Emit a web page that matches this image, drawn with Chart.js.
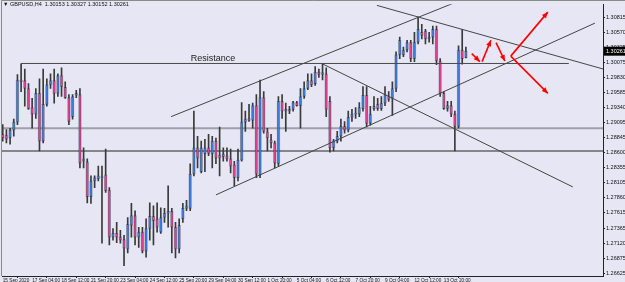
<!DOCTYPE html>
<html>
<head>
<meta charset="utf-8">
<script src="https://cdn.jsdelivr.net/npm/chart.js@4.4.0/dist/chart.umd.min.js"></script>
<style>
  html, body { margin: 0; padding: 0; background: #e6e6f5; }
  #wrap { width: 625px; height: 282px; position: relative; }
</style>
</head>
<body>
<div id="wrap"><canvas id="chart"></canvas></div>
<script>
// Chart values
var symbol = 'GBPUSD,H4';

var xLabels = ['15 Sep 2020', '17 Sep 04:00', '18 Sep 12:00', '21 Sep 20:00', '23 Sep 04:00',
    '24 Sep 12:00', '25 Sep 20:00', '29 Sep 04:00', '30 Sep 12:00', '1 Oct 20:00', '5 Oct 04:00',
    '6 Oct 12:00', '7 Oct 20:00', '9 Oct 04:00', '12 Oct 12:00', '13 Oct 20:00'];
var barsPerLabel = 8;

var priceTicks = [1.30815, 1.30570, 1.30325, 1.30075, 1.29830, 1.29585, 1.29340, 1.29095, 1.28845,
    1.28600, 1.28355, 1.28105, 1.27860, 1.27615, 1.27365, 1.27120, 1.26875, 1.26625];

var opens = [
    1.2890, 1.2889, 1.2884, 1.2897, 1.2910, 1.2979, 1.2978, 1.2965, 1.2934, 1.2923,
    1.2957, 1.2879, 1.2939, 1.2971, 1.2978, 1.2957, 1.2986, 1.2967, 1.2950, 1.2919,
    1.2954, 1.2955, 1.2846, 1.2845, 1.2788, 1.2814, 1.2817, 1.2819, 1.2824, 1.2799,
    1.2722, 1.2728, 1.2722, 1.2718, 1.2702, 1.2741, 1.2757, 1.2722, 1.2730, 1.2699,
    1.2736, 1.2756, 1.2752, 1.2730, 1.2754, 1.2761, 1.2764, 1.2738, 1.2702, 1.2752,
    1.2769, 1.2769, 1.2825, 1.2868, 1.2829, 1.2858, 1.2868, 1.2858, 1.2879, 1.2856,
    1.2853, 1.2855, 1.2850, 1.2840, 1.2819, 1.2848, 1.2910, 1.2913, 1.2913, 1.2937,
    1.2824, 1.2950, 1.2894, 1.2881, 1.2876, 1.2842, 1.2944, 1.2928, 1.2931, 1.2931,
    1.2942, 1.2937, 1.2952, 1.2965, 1.2978, 1.2973, 1.2992, 1.2988, 1.2989, 1.2944,
    1.2868, 1.2879, 1.2887, 1.2903, 1.2897, 1.2918, 1.2923, 1.2923, 1.2932, 1.2954,
    1.2908, 1.2932, 1.2939, 1.2932, 1.2941, 1.2952, 1.2949, 1.2965, 1.3020, 1.3020,
    1.3028, 1.3040, 1.3014, 1.3041, 1.3057, 1.3059, 1.3049, 1.3049, 1.3062, 1.3010,
    1.2957, 1.2932, 1.2937, 1.2923, 1.2903, 1.3028, 1.30153];

var highs = [
    1.2906, 1.2898, 1.2900, 1.2915, 1.2988, 1.3005, 1.2997, 1.2973, 1.2949, 1.2965,
    1.2981, 1.2997, 1.2981, 1.2989, 1.2997, 1.2989, 1.2999, 1.2976, 1.2955, 1.2955,
    1.2962, 1.2965, 1.2868, 1.2850, 1.2822, 1.2822, 1.2838, 1.2838, 1.2866, 1.2803,
    1.2736, 1.2746, 1.2733, 1.2725, 1.2754, 1.2777, 1.2765, 1.2738, 1.2738, 1.2752,
    1.2778, 1.2773, 1.2778, 1.2770, 1.2769, 1.2806, 1.2769, 1.2746, 1.2752, 1.2777,
    1.2782, 1.2842, 1.2928, 1.2887, 1.2879, 1.2882, 1.2890, 1.2887, 1.2884, 1.2902,
    1.2868, 1.2868, 1.2866, 1.2846, 1.2866, 1.2942, 1.2928, 1.2939, 1.2941, 1.2955,
    1.2979, 1.2960, 1.2900, 1.2890, 1.2879, 1.2952, 1.2955, 1.2941, 1.2936, 1.2944,
    1.2944, 1.2965, 1.2976, 1.2989, 1.2989, 1.3001, 1.2997, 1.3005, 1.2999, 1.2952,
    1.2882, 1.2895, 1.2915, 1.2911, 1.2928, 1.2931, 1.2934, 1.2942, 1.2968, 1.2968,
    1.2936, 1.2952, 1.2949, 1.2952, 1.2968, 1.2960, 1.2976, 1.3025, 1.3049, 1.3033,
    1.3044, 1.3044, 1.3057, 1.3082, 1.3070, 1.3062, 1.3057, 1.3067, 1.3067, 1.3014,
    1.2960, 1.2944, 1.2944, 1.2928, 1.3035, 1.3062, 1.30327];

var lows = [
    1.2879, 1.2876, 1.2874, 1.2887, 1.2906, 1.2960, 1.2936, 1.2931, 1.2900, 1.2916,
    1.2863, 1.2876, 1.2936, 1.2965, 1.2941, 1.2952, 1.2952, 1.2949, 1.2906, 1.2915,
    1.2950, 1.2835, 1.2835, 1.2778, 1.2777, 1.2803, 1.2814, 1.2712, 1.2795, 1.2709,
    1.2717, 1.2713, 1.2712, 1.2675, 1.2696, 1.2722, 1.2709, 1.2705, 1.2696, 1.2689,
    1.2717, 1.2709, 1.2730, 1.2728, 1.2746, 1.2738, 1.2696, 1.2688, 1.2696, 1.2746,
    1.2765, 1.2765, 1.2822, 1.2835, 1.2827, 1.2829, 1.2855, 1.2835, 1.2842, 1.2822,
    1.2846, 1.2846, 1.2827, 1.2806, 1.2814, 1.2846, 1.2895, 1.2911, 1.2900, 1.2819,
    1.2819, 1.2892, 1.2863, 1.2868, 1.2835, 1.2838, 1.2916, 1.2895, 1.2924, 1.2928,
    1.2936, 1.2900, 1.2949, 1.2963, 1.2968, 1.2970, 1.2983, 1.2979, 1.2919, 1.2861,
    1.2863, 1.2876, 1.2879, 1.2892, 1.2894, 1.2911, 1.2916, 1.2919, 1.2928, 1.2902,
    1.2905, 1.2929, 1.2929, 1.2929, 1.2937, 1.2944, 1.2921, 1.2960, 1.3014, 1.3017,
    1.3025, 1.3009, 1.3009, 1.3038, 1.3046, 1.3038, 1.3041, 1.3038, 1.3004, 1.2952,
    1.2931, 1.2928, 1.2919, 1.2863, 1.2900, 1.3005, 1.30152];

var closes = [
    1.2884, 1.2882, 1.2897, 1.2910, 1.2979, 1.2976, 1.2965, 1.2932, 1.2923, 1.2957,
    1.2879, 1.2939, 1.2971, 1.2978, 1.2957, 1.2986, 1.2968, 1.2950, 1.2911, 1.2952,
    1.2957, 1.2843, 1.2850, 1.2788, 1.2814, 1.2819, 1.2822, 1.2821, 1.2798, 1.2722,
    1.2728, 1.2722, 1.2717, 1.2704, 1.2743, 1.2757, 1.2722, 1.2730, 1.2699, 1.2736,
    1.2756, 1.2749, 1.2738, 1.2754, 1.2761, 1.2764, 1.2738, 1.2702, 1.2741, 1.2769,
    1.2773, 1.2825, 1.2868, 1.2851, 1.2868, 1.2868, 1.2859, 1.2879, 1.2851, 1.2851,
    1.2858, 1.2850, 1.2838, 1.2819, 1.2848, 1.2910, 1.2915, 1.2916, 1.2937, 1.2825,
    1.2950, 1.2895, 1.2884, 1.2876, 1.2843, 1.2944, 1.2928, 1.2931, 1.2928, 1.2942,
    1.2937, 1.2952, 1.2965, 1.2978, 1.2971, 1.2992, 1.2988, 1.2991, 1.2931, 1.2868,
    1.2879, 1.2887, 1.2903, 1.2897, 1.2918, 1.2923, 1.2924, 1.2934, 1.2954, 1.2908,
    1.2923, 1.2936, 1.2932, 1.2941, 1.2955, 1.2947, 1.2965, 1.3020, 1.3044, 1.3028,
    1.3040, 1.3014, 1.3041, 1.3062, 1.3052, 1.3046, 1.3046, 1.3062, 1.3010, 1.2957,
    1.2932, 1.2937, 1.2923, 1.2903, 1.3028, 1.3014, 1.30261];

// drawn objects: [bar index, price] pairs
var resistanceLevel = 1.3006;
var resistanceLine = [[4.9, 1.3006], [154, 1.3006]];
var resistanceLabel = 'Resistance';
var resistanceLabelAt = 57.2;
var greyLevels = [1.2900, 1.2863];
var upperChannel = [[45.8, 1.2919], [124, 1.3108]];
var lowerChannel = [[58.0, 1.2791], [161.1, 1.3072]];
var fallingLine = [[87.1, 1.3005], [155.1, 1.2804]];
var topLine = [[101.8, 1.3101], [163.3, 1.2997]];
var arrows = [
    [[127.6, 1.3022], [129.8, 1.3009]],
    [[130.4, 1.3009], [132.8, 1.3044]],
    [[134.2, 1.3040], [136.6, 1.3010]],
    [[138.2, 1.3018], [148.3, 1.3090]],
    [[138.2, 1.3018], [148.3, 1.2957]]
];

// build datasets from the arrays
var wickData = opens.map(function (o, i) { return { x: i, y: [lows[i], highs[i]] }; });
var bodyData = opens.map(function (o, i) { return { x: i, y: [o, closes[i]] }; });
var bodyColors = opens.map(function (o, i) { return closes[i] >= o ? '#3b7ce0' : '#de3f92'; });

function toPoints(pairs) {
    return pairs.map(function (p) { return { x: p[0], y: p[1] }; });
}

function lineSet(pairs, color, width, order) {
    return {
        type: 'line', data: toPoints(pairs), borderColor: color, borderWidth: width,
        pointRadius: 0, fill: false, tension: 0, order: order
    };
}

var datasets = [];
greyLevels.forEach(function (lvl, k) {
    datasets.push(lineSet([[-2, lvl], [170, lvl]], k === 0 ? '#a0a0a8' : '#85858c', 2, 5));
});
datasets.push({
    type: 'bar', data: wickData, backgroundColor: '#3a3a3a', barThickness: 1,
    grouped: false, order: 4
});
datasets.push({
    type: 'bar', data: bodyData, backgroundColor: bodyColors, borderColor: 'rgba(20,20,40,0.3)',
    borderWidth: 1, borderSkipped: false, barThickness: 3, minBarLength: 1,
    grouped: false, order: 3
});
datasets.push(lineSet(resistanceLine, '#4a4a4a', 1, 2));
[upperChannel, lowerChannel, fallingLine, topLine].forEach(function (l) {
    datasets.push(lineSet(l, '#454545', 1, 2));
});
arrows.forEach(function (a) {
    var ds = lineSet(a, '#ff0000', 1.6, 1);
    ds.arrow = true;
    datasets.push(ds);
});

// extra drawing: background, arrow heads, texts, price box, frame
var chartDecor = {
    id: 'chartDecor',
    beforeDraw: function (chart) {
        var ctx = chart.ctx;
        ctx.save();
        ctx.fillStyle = '#e6e6f5';
        ctx.fillRect(0, 0, chart.width, chart.height);
        ctx.restore();
    },
    afterDatasetsDraw: function (chart) {
        var ctx = chart.ctx;
        var xs = chart.scales.x, ys = chart.scales.y;
        ctx.save();
        chart.data.datasets.forEach(function (ds, i) {
            if (!ds.arrow) return;
            var pts = chart.getDatasetMeta(i).data;
            var a = pts[pts.length - 2], b = pts[pts.length - 1];
            var ang = Math.atan2(b.y - a.y, b.x - a.x);
            ctx.fillStyle = ds.borderColor;
            ctx.beginPath();
            ctx.moveTo(b.x, b.y);
            ctx.lineTo(b.x - 6 * Math.cos(ang) + 2.6 * Math.sin(ang), b.y - 6 * Math.sin(ang) - 2.6 * Math.cos(ang));
            ctx.lineTo(b.x - 6 * Math.cos(ang) - 2.6 * Math.sin(ang), b.y - 6 * Math.sin(ang) + 2.6 * Math.cos(ang));
            ctx.closePath();
            ctx.fill();
        });
        ctx.font = '9px "Liberation Sans"';
        ctx.fillStyle = '#222';
        ctx.textAlign = 'center';
        ctx.textBaseline = 'bottom';
        ctx.fillText(resistanceLabel, xs.getPixelForValue(resistanceLabelAt), ys.getPixelForValue(resistanceLevel) - 0.5);
        ctx.restore();
    },
    afterDraw: function (chart) {
        var ctx = chart.ctx;
        var area = chart.chartArea;
        var ys = chart.scales.y;
        var last = opens.length - 1;
        ctx.save();
        // window frame
        ctx.strokeStyle = '#8a8a8a';
        ctx.lineWidth = 1;
        ctx.beginPath();
        ctx.moveTo(1.5, area.bottom);
        ctx.lineTo(1.5, 0.5);
        ctx.lineTo(chart.width, 0.5);
        ctx.stroke();
        // symbol line
        ctx.font = '5.5px "Liberation Sans"';
        ctx.fillStyle = '#111';
        ctx.textAlign = 'left';
        ctx.textBaseline = 'middle';
        ctx.fillText('\u25BC ' + symbol + '  ' + opens[last].toFixed(5) + ' ' + highs[last].toFixed(5) + ' ' +
            lows[last].toFixed(5) + ' ' + closes[last].toFixed(5), 3, 4.5);
        // current price box
        var py = ys.getPixelForValue(closes[last]);
        ctx.fillStyle = '#000';
        ctx.fillRect(area.right + 1, py - 4.5, chart.width - area.right - 1, 9);
        ctx.fillStyle = '#fff';
        ctx.fillText(closes[last].toFixed(5), area.right + 3, py);
        ctx.restore();
    }
};

Chart.defaults.font.family = '"Liberation Sans", Arial, sans-serif';

new Chart(document.getElementById('chart').getContext('2d'), {
    type: 'bar',
    data: { datasets: datasets },
    options: {
        responsive: true,
        maintainAspectRatio: false,
        animation: false,
        events: [],
        layout: { padding: { left: 2, top: 2, right: 0, bottom: 0 } },
        plugins: { legend: { display: false }, tooltip: { enabled: false } },
        scales: {
            x: {
                type: 'linear',
                offset: false,
                min: -0.2,
                max: 163.3,
                afterBuildTicks: function (scale) {
                    scale.ticks = xLabels.map(function (_, k) { return { value: k * barsPerLabel }; });
                },
                afterFit: function (scale) { scale.height = 6; },
                ticks: {
                    autoSkip: false,
                    maxRotation: 0,
                    align: 'start',
                    padding: 0,
                    color: '#111',
                    font: { size: 4.7 },
                    callback: function (v) { return xLabels[Math.round(v / barsPerLabel)]; }
                },
                grid: { drawOnChartArea: false, tickLength: 2, color: '#222' },
                border: { display: true, color: '#222' }
            },
            y: {
                position: 'right',
                min: 1.26583,
                max: 1.31028,
                afterBuildTicks: function (scale) {
                    scale.ticks = priceTicks.map(function (v) { return { value: v }; });
                },
                afterFit: function (scale) { scale.width = 22; },
                ticks: {
                    autoSkip: false,
                    padding: 1,
                    color: '#111',
                    font: { size: 5.5 },
                    callback: function (v) { return v.toFixed(5); }
                },
                grid: { drawOnChartArea: false, tickLength: 2, color: '#222' },
                border: { display: true, color: '#222' }
            }
        }
    },
    plugins: [chartDecor]
});
</script>
</body>
</html>
